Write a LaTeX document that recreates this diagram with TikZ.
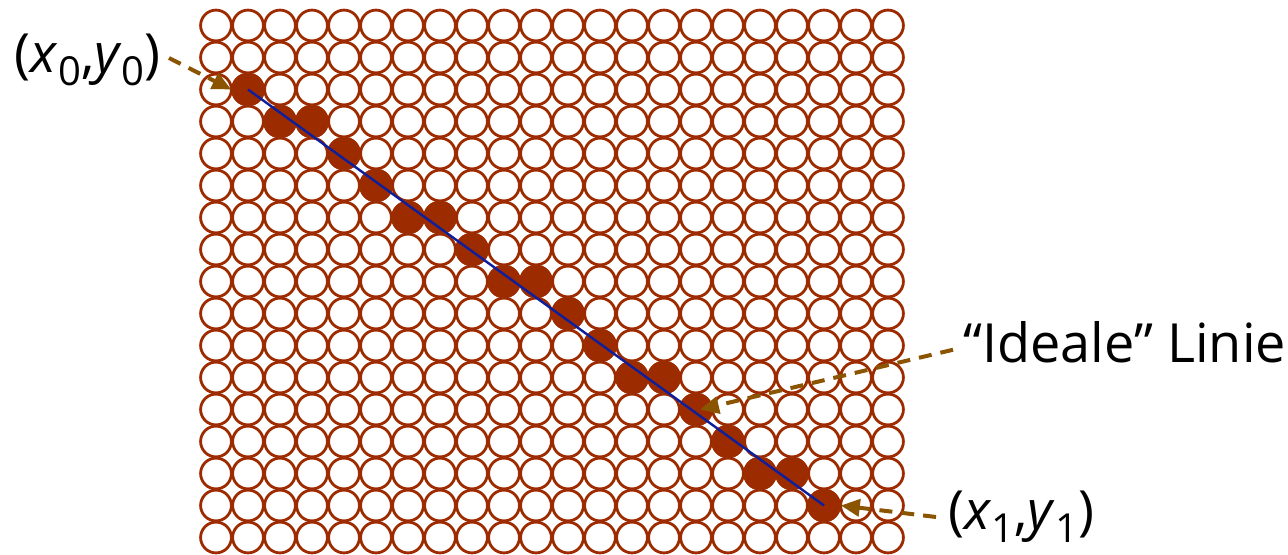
\documentclass[tikz,border=0pt]{standalone}
\usepackage{fontspec}
\setmainfont{Open Sans}
\usetikzlibrary{arrows.meta}
\definecolor{dotcol}{HTML}{9C2C00}
\definecolor{linecol}{HTML}{0E1E9C}
\definecolor{pointercol}{HTML}{8B5400}
\newcommand{\lowidx}[1]{\raisebox{-0.24em}{\fontsize{20}{20}\selectfont #1}}
\tikzset{
  % open circle = pixel not set
  pixel/.style={circle, draw=dotcol, line width=1.4pt,
                inner sep=0pt, minimum size=15.4pt},
  % filled circle = pixel set
  pixel on/.style={pixel, fill=dotcol},
  % dashed pointer from a caption
  pointer/.style={pointercol, line width=2pt, dash pattern=on 6.5pt off 4.5pt,
                  -{Triangle[length=9.5pt,width=8.5pt]}},
  caption/.style={font=\fontsize{27}{31}\selectfont, inner sep=0pt},
}

\begin{document}
\begin{tikzpicture}[x=0.5pt, y=-0.5pt]
  \useasboundingbox (0,0) rectangle (1288,555);
  % pixel raster
  \foreach \i in {0,...,21}
    \foreach \j in {0,...,16}
      \node[pixel] (c-\i-\j) at (216+32*\i, 25.5+32*\j) {};
  % pixels chosen along the line
  \foreach \i/\j in {1/2,2/3,3/3,4/4,5/5,6/6,7/6,8/7,9/8,10/8,
                     11/9,12/10,13/11,14/11,15/12,16/13,17/14,18/14,19/15}
    \node[pixel on] (p-\i-\j) at (c-\i-\j) {};
  % ideal line
  \draw[linecol, line width=1.2pt] (p-1-2.center) -- (p-19-15.center);

  % captions
  \node[caption, anchor=east] (start) at (161,60)
    {(\textit{x}\lowidx{0},\textit{y}\lowidx{0})};
  \node[caption, anchor=base west] (ideal) at (963,362) {“Ideale” Linie};
  \node[caption, anchor=west] (finish) at (948,517)
    {(\textit{x}\lowidx{1},\textit{y}\lowidx{1})};

  \draw[pointer] ([xshift=4pt,yshift=1pt]start.east) -- (p-1-2.west);
  \draw[pointer] ([xshift=-5pt,yshift=-4pt]ideal.west) -- ([xshift=2pt]p-15-12.center);
  \draw[pointer] ([xshift=-6pt,yshift=0pt]finish.west) -- (p-19-15.east);
\end{tikzpicture}
\end{document}
